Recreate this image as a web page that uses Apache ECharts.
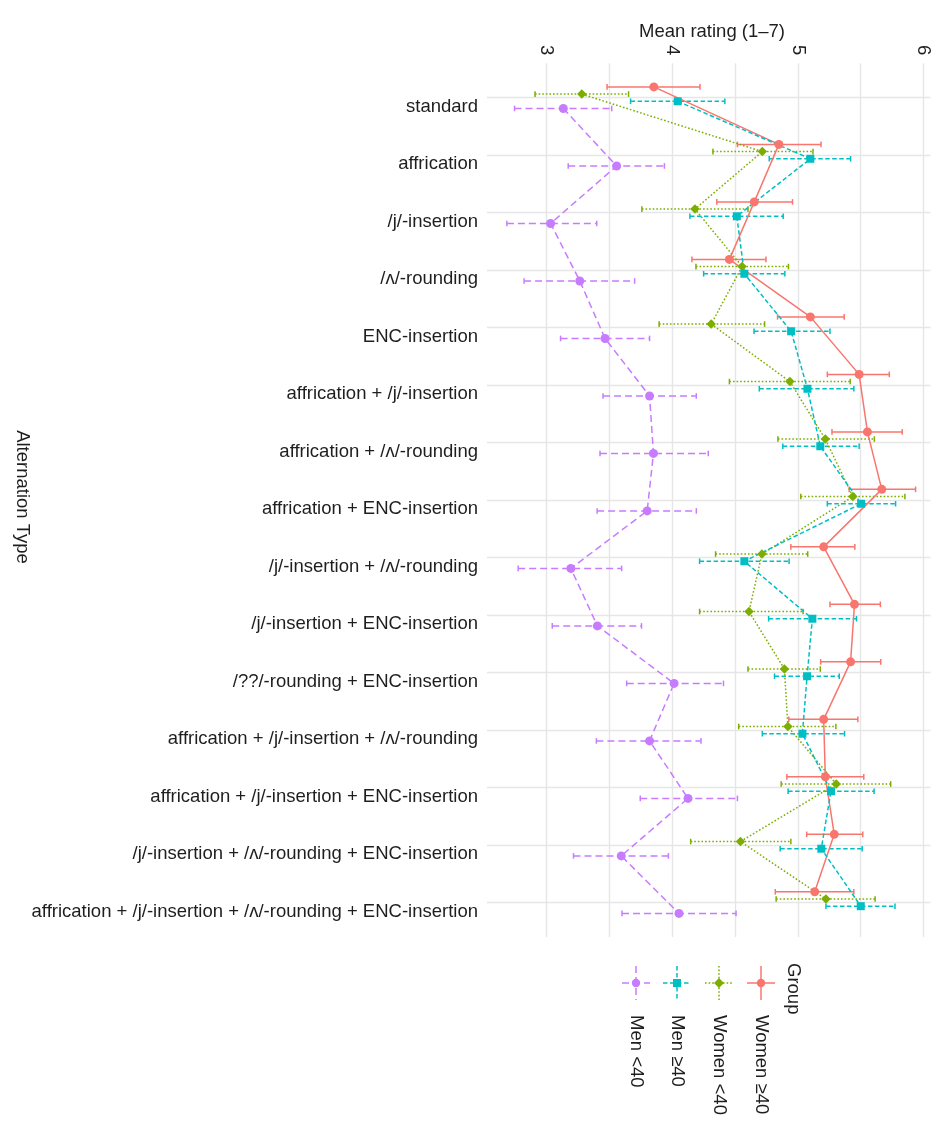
<!DOCTYPE html>
<html><head><meta charset="utf-8">
<script src="https://cdn.jsdelivr.net/npm/echarts@6/dist/echarts.min.js"></script>
<style>html,body{margin:0;padding:0;background:#fff}#c{width:933px;height:1123px}</style>
</head><body><div id="c"></div>
<script>
const categories = ['standard','affrication','/j/-insertion','/ʌ/-rounding','ENC-insertion','affrication + /j/-insertion','affrication + /ʌ/-rounding','affrication + ENC-insertion','/j/-insertion + /ʌ/-rounding','/j/-insertion + ENC-insertion','/??/-rounding + ENC-insertion','affrication + /j/-insertion + /ʌ/-rounding','affrication + /j/-insertion + ENC-insertion','/j/-insertion + /ʌ/-rounding + ENC-insertion','affrication + /j/-insertion + /ʌ/-rounding + ENC-insertion'];
const groups = ['Women ≥40','Women <40','Men ≥40','Men <40'];
const xTicks = [3,4,5,6];

const womenOldMean = [3.855,4.850,4.654,4.456,5.100,5.488,5.554,5.668,5.206,5.451,5.420,5.206,5.219,5.290,5.135];
const womenOldLo   = [3.483,4.520,4.356,4.158,4.839,5.235,5.272,5.409,4.945,5.256,5.182,4.929,4.913,5.071,4.821];
const womenOldHi   = [4.222,5.185,4.958,4.747,5.369,5.728,5.831,5.937,5.454,5.657,5.660,5.478,5.525,5.517,5.446];

const womenYoungMean = [3.282,4.718,4.182,4.557,4.311,4.937,5.219,5.438,4.715,4.612,4.894,4.921,5.306,4.544,5.224];
const womenYoungLo   = [2.910,4.325,3.760,4.190,3.897,4.456,4.842,5.024,4.346,4.219,4.604,4.530,4.868,4.148,4.828];
const womenYoungHi   = [3.654,5.121,4.604,4.926,4.736,5.417,5.609,5.852,5.079,5.042,5.179,5.303,5.739,4.945,5.615];

const menOldMean = [4.045,5.100,4.515,4.575,4.947,5.077,5.179,5.504,4.575,5.116,5.074,5.037,5.264,5.187,5.501];
const menOldLo   = [3.670,4.773,4.142,4.251,4.652,4.694,4.881,5.235,4.219,4.768,4.815,4.718,4.923,4.860,5.224];
const menOldHi   = [4.420,5.420,4.884,4.897,5.256,5.446,5.488,5.778,4.931,5.467,5.330,5.372,5.607,5.512,5.773];

const menYoungMean = [3.135,3.559,3.034,3.266,3.467,3.821,3.852,3.802,3.195,3.406,4.016,3.821,4.127,3.596,4.055];
const menYoungLo   = [2.747,3.174,2.686,2.823,3.113,3.451,3.427,3.404,2.776,3.047,3.639,3.398,3.747,3.216,3.602];
const menYoungHi   = [3.520,3.939,3.401,3.702,3.821,4.193,4.288,4.193,3.599,3.757,4.409,4.230,4.520,3.971,4.509];

const means = [womenOldMean, womenYoungMean, menOldMean, menYoungMean];
const los = [womenOldLo, womenYoungLo, menOldLo, menYoungLo];
const his = [womenOldHi, womenYoungHi, menOldHi, menYoungHi];

const colors = ['#F8766D','#7CAE00','#00BFC4','#C77CFF'];
const dashes = ['solid',[1.6,2],[4.5,2.5],[7,4]];
const symbols = ['circle','diamond','rect','circle'];
const symSizes = [9,9.5,8,9];
const dodge = [-0.1875,-0.0625,0.0625,0.1875];
const LW = 1.5;
const textColor = '#1e1e1e';
const font = 'Liberation Sans, Arial, sans-serif';
const FS = 18.5;
const gridColor = '#E6E6E6';

const chart = echarts.init(document.getElementById('c'), null, {renderer:'canvas'});

const series = [];
groups.forEach((g, gi) => {
  series.push({
    type: 'custom',
    name: g + ' err',
    silent: true,
    encode: {x: [0,1], y: 2},
    data: categories.map((c, i) => [los[gi][i], his[gi][i], i + dodge[gi]]),
    renderItem: (params, api) => {
      const p1 = api.coord([api.value(0), api.value(2)]);
      const p2 = api.coord([api.value(1), api.value(2)]);
      const cap = 2.8;
      const st = {stroke: colors[gi], lineWidth: LW, lineDash: dashes[gi] === 'solid' ? null : dashes[gi]};
      return {type: 'group', children: [
        {type: 'line', shape: {x1: p1[0], y1: p1[1], x2: p2[0], y2: p2[1]}, style: st},
        {type: 'line', shape: {x1: p1[0], y1: p1[1]-cap, x2: p1[0], y2: p1[1]+cap}, style: {stroke: colors[gi], lineWidth: LW}},
        {type: 'line', shape: {x1: p2[0], y1: p2[1]-cap, x2: p2[0], y2: p2[1]+cap}, style: {stroke: colors[gi], lineWidth: LW}}
      ]};
    },
    z: 2
  });
  series.push({
    type: 'line',
    name: g,
    data: categories.map((c, i) => [means[gi][i], i + dodge[gi]]),
    symbol: symbols[gi],
    symbolSize: symSizes[gi],
    showSymbol: true,
    animation: false,
    itemStyle: {color: colors[gi]},
    lineStyle: {color: colors[gi], width: LW, type: dashes[gi]},
    z: 3
  });
});

// legend drawn as graphic (rotated like the reference)
const legendX = [761, 719, 677, 636];
const legendChildren = [{
  type: 'text', x: 793, y: 963, rotation: -Math.PI/2,
  style: {text: 'Group', fontSize: FS, fontFamily: font, fill: textColor, align: 'left', verticalAlign: 'middle'}
}];
groups.forEach((g, gi) => {
  const x = legendX[gi], y = 983;
  const dash = dashes[gi] === 'solid' ? null : dashes[gi];
  legendChildren.push({type: 'line', shape: {x1: x, y1: y-17, x2: x, y2: y+17}, style: {stroke: colors[gi], lineWidth: LW, lineDash: dash}});
  legendChildren.push({type: 'line', shape: {x1: x-14, y1: y, x2: x+14, y2: y}, style: {stroke: colors[gi], lineWidth: LW, lineDash: dash}});
  let sym;
  if (symbols[gi] === 'circle') sym = {type: 'circle', shape: {cx: x, cy: y, r: 4.2}, style: {fill: colors[gi]}};
  else if (symbols[gi] === 'rect') sym = {type: 'rect', shape: {x: x-4, y: y-4, width: 8, height: 8}, style: {fill: colors[gi]}};
  else sym = {type: 'polygon', shape: {points: [[x, y-5],[x+5, y],[x, y+5],[x-5, y]]}, style: {fill: colors[gi]}};
  legendChildren.push(sym);
  legendChildren.push({type: 'text', x: x, y: 1015, rotation: -Math.PI/2,
    style: {text: g, fontSize: FS, fontFamily: font, fill: textColor, align: 'left', verticalAlign: 'middle'}});
});

const option = {
  backgroundColor: '#ffffff',
  animation: false,
  textStyle: {fontFamily: font},
  grid: {left: 487, right: 0, top: 63.2, bottom: 185.9},
  xAxis: {
    type: 'value', position: 'top', min: 2.528, max: 6.056, minInterval: 0.5, maxInterval: 0.5,
    axisLine: {show: false}, axisTick: {show: false},
    axisLabel: {rotate: -90, fontSize: FS, color: textColor, margin: 8, fontFamily: font,
      formatter: v => { const r = Math.round(v); return (Math.abs(v - r) < 1e-6 && xTicks.includes(r)) ? String(r) : ''; }},
    splitLine: {show: true, showMinLine: false, showMaxLine: false, lineStyle: {color: gridColor, width: 1.4}}
  },
  yAxis: {
    type: 'value', inverse: true, min: -0.6, max: 14.6, minInterval: 1, maxInterval: 1,
    axisLine: {show: false}, axisTick: {show: false},
    axisLabel: {fontSize: FS, color: textColor, margin: 9, fontFamily: font, lineHeight: 18,
      formatter: v => { const r = Math.round(v); return (Math.abs(v - r) < 1e-6 && r >= 0 && r < categories.length) ? ' \n' + categories[r] : ''; }},
    splitLine: {show: true, showMinLine: false, showMaxLine: false, lineStyle: {color: gridColor, width: 1.4}}
  },
  graphic: [
    {type: 'text', x: 712, y: 32, 
     style: {text: 'Mean rating (1–7)', fontSize: FS, fontFamily: font, fill: textColor, align: 'center', verticalAlign: 'middle'}},
    {type: 'text', x: 22, y: 497, rotation: -Math.PI/2,
     style: {text: 'Alternation Type', fontSize: FS, fontFamily: font, fill: textColor, align: 'center', verticalAlign: 'middle'}},
    {type: 'group', children: legendChildren}
  ],
  series: series
};
chart.setOption(option);
</script>
</body></html>
